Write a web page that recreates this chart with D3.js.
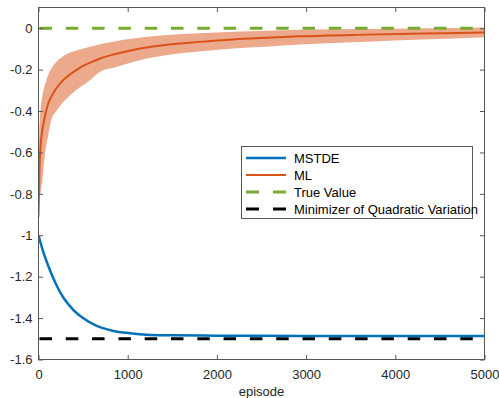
<!DOCTYPE html>
<html>
<head>
<meta charset="utf-8">
<script src="https://cdn.jsdelivr.net/npm/d3@7"></script>
<style>
  html, body { margin: 0; padding: 0; background: #fff; }
  svg { display: block; }
  text { font-family: "Liberation Sans", Arial, sans-serif; }
</style>
</head>
<body>
<div id="chart"></div>
<script>
// values
const mlEpisodes = [0, 3, 8, 15, 25, 40, 56, 75, 112, 138, 200, 261, 390, 465, 580, 700, 850, 1060, 1440, 1800, 2180, 2550, 2930, 3670, 4300, 5000];
const mlMean  = [-0.91, -0.82, -0.72, -0.63, -0.56, -0.50, -0.46, -0.42, -0.36, -0.335, -0.29, -0.258, -0.212, -0.19, -0.166, -0.145, -0.126, -0.105, -0.08, -0.066, -0.054, -0.046, -0.039, -0.031, -0.026, -0.021];
const mlUpper = [-0.86, -0.63, -0.51, -0.44, -0.385, -0.335, -0.30, -0.27, -0.222, -0.20, -0.163, -0.14, -0.113, -0.103, -0.09, -0.076, -0.064, -0.05, -0.033, -0.024, -0.017, -0.012, -0.008, -0.004, 0.0, 0.004];
const mlLower = [-0.93, -0.91, -0.87, -0.82, -0.79, -0.745, -0.675, -0.60, -0.51, -0.45, -0.40, -0.365, -0.31, -0.285, -0.25, -0.208, -0.19, -0.163, -0.13, -0.113, -0.098, -0.089, -0.079, -0.065, -0.055, -0.044];

const mstdeEpisodes = [0, 50, 130, 206, 280, 392, 503, 653, 839, 1026, 1212, 1500, 2000, 3000, 5000];
const mstdeValues = [-1.0, -1.075, -1.17, -1.245, -1.302, -1.361, -1.401, -1.438, -1.462, -1.473, -1.480, -1.483, -1.485, -1.486, -1.487];

const trueValue = 0;
const qvMinimizer = -1.5;

const xTicks = [0, 1000, 2000, 3000, 4000, 5000];
const xTickLabels = ["0", "1000", "2000", "3000", "4000", "5000"];
const yTicks = [-1.6, -1.4, -1.2, -1, -0.8, -0.6, -0.4, -0.2, 0];
const yTickLabels = ["-1.6", "-1.4", "-1.2", "-1", "-0.8", "-0.6", "-0.4", "-0.2", "0"];

const legendNames = ["MSTDE", "ML", "True Value", "Minimizer of Quadratic Variation"];

const W = 499, H = 398;
const plotLeft = 38.5, plotRight = 484.5, plotTop = 7.5, plotBottom = 359.5;

const svg = d3.select('#chart').append('svg')
  .attr('width', W)
  .attr('height', H);

const x = d3.scaleLinear().domain([0, 5000]).range([plotLeft, plotRight]);
const y = d3.scaleLinear().domain([-1.6, 0.1]).range([plotBottom, plotTop]);

svg.append('defs').append('clipPath').attr('id', 'plotclip')
  .append('rect')
  .attr('x', plotLeft).attr('y', plotTop)
  .attr('width', plotRight - plotLeft).attr('height', plotBottom - plotTop);

const plot = svg.append('g').attr('clip-path', 'url(#plotclip)');

// ML spread band
const band = d3.area()
  .x((d, i) => x(mlEpisodes[i]))
  .y0((d, i) => y(mlLower[i]))
  .y1((d, i) => y(mlUpper[i]))
  .curve(d3.curveMonotoneX);

plot.append('path')
  .datum(mlEpisodes)
  .attr('d', band)
  .attr('fill', '#D95319')
  .attr('fill-opacity', 0.5);

const mlLine = d3.line()
  .x((d, i) => x(mlEpisodes[i]))
  .y((d, i) => y(mlMean[i]))
  .curve(d3.curveMonotoneX);

plot.append('path')
  .datum(mlEpisodes)
  .attr('d', mlLine)
  .attr('fill', 'none')
  .attr('stroke', '#D95319')
  .attr('stroke-width', 2);

const mstdeLine = d3.line()
  .x((d, i) => x(mstdeEpisodes[i]))
  .y((d, i) => y(mstdeValues[i]))
  .curve(d3.curveMonotoneX);

plot.append('path')
  .datum(mstdeEpisodes)
  .attr('d', mstdeLine)
  .attr('fill', 'none')
  .attr('stroke', '#0072BD')
  .attr('stroke-width', 2.5);

// horizontal reference lines
plot.append('line')
  .attr('x1', x(0) + 1).attr('x2', x(5000))
  .attr('y1', y(trueValue)).attr('y2', y(trueValue))
  .attr('stroke', '#77AC30')
  .attr('stroke-width', 3)
  .attr('stroke-dasharray', '12.5,13.8');

plot.append('line')
  .attr('x1', x(0) + 1).attr('x2', x(5000))
  .attr('y1', y(qvMinimizer)).attr('y2', y(qvMinimizer))
  .attr('stroke', '#000')
  .attr('stroke-width', 3)
  .attr('stroke-dasharray', '12.5,13.8');

// axes, matlab style: ticks inside on all sides
const axisColor = '#262626';

const styleAxis = g => {
  g.select('.domain').remove();
  g.selectAll('.tick line').attr('stroke', '#555');
  g.selectAll('.tick text')
    .attr('fill', axisColor)
    .style('font-size', '13px')
    .style('font-family', '"Liberation Sans", Arial, sans-serif');
};

svg.append('g')
  .attr('transform', `translate(0,${plotBottom})`)
  .call(d3.axisBottom(x).tickValues(xTicks).tickSize(-4.5).tickPadding(10)
    .tickFormat((d, i) => xTickLabels[i]))
  .call(styleAxis);

svg.append('g')
  .attr('transform', `translate(0,${plotTop})`)
  .call(d3.axisTop(x).tickValues(xTicks).tickSize(-4.5).tickFormat(''))
  .call(styleAxis);

svg.append('g')
  .attr('transform', `translate(${plotLeft},0)`)
  .call(d3.axisLeft(y).tickValues(yTicks).tickSize(-4.5).tickPadding(6)
    .tickFormat((d, i) => yTickLabels[i]))
  .call(styleAxis);

svg.append('g')
  .attr('transform', `translate(${plotRight},0)`)
  .call(d3.axisRight(y).tickValues(yTicks).tickSize(-4.5).tickFormat(''))
  .call(styleAxis);

svg.append('rect')
  .attr('x', plotLeft).attr('y', plotTop)
  .attr('width', plotRight - plotLeft).attr('height', plotBottom - plotTop)
  .attr('fill', 'none')
  .attr('stroke', '#555')
  .attr('stroke-width', 1);

svg.append('text')
  .attr('x', (plotLeft + plotRight) / 2)
  .attr('y', 396)
  .attr('text-anchor', 'middle')
  .attr('fill', axisColor)
  .style('font-size', '13px')
  .text('episode');

// legend
const legendStyles = [
  { color: '#0072BD', width: 2.5, dash: null },
  { color: '#D95319', width: 2, dash: null },
  { color: '#77AC30', width: 3, dash: '13,14' },
  { color: '#000', width: 3, dash: '13,14' }
];

const legend = svg.append('g');
legend.append('rect')
  .attr('x', 241.5).attr('y', 146.5)
  .attr('width', 231).attr('height', 72)
  .attr('fill', '#fff')
  .attr('stroke', '#555')
  .attr('stroke-width', 1);

const rows = legend.selectAll('g.row')
  .data(legendNames)
  .join('g')
  .attr('class', 'row')
  .attr('transform', (d, i) => `translate(0,${158 + i * 17})`);

rows.append('line')
  .attr('x1', 246).attr('x2', 286)
  .attr('y1', 0).attr('y2', 0)
  .attr('stroke', (d, i) => legendStyles[i].color)
  .attr('stroke-width', (d, i) => legendStyles[i].width)
  .attr('stroke-dasharray', (d, i) => legendStyles[i].dash);

rows.append('text')
  .attr('x', 294)
  .attr('y', 0)
  .attr('dy', '0.35em')
  .attr('fill', '#000')
  .style('font-size', '13px')
  .text(d => d);
</script>
</body>
</html>
